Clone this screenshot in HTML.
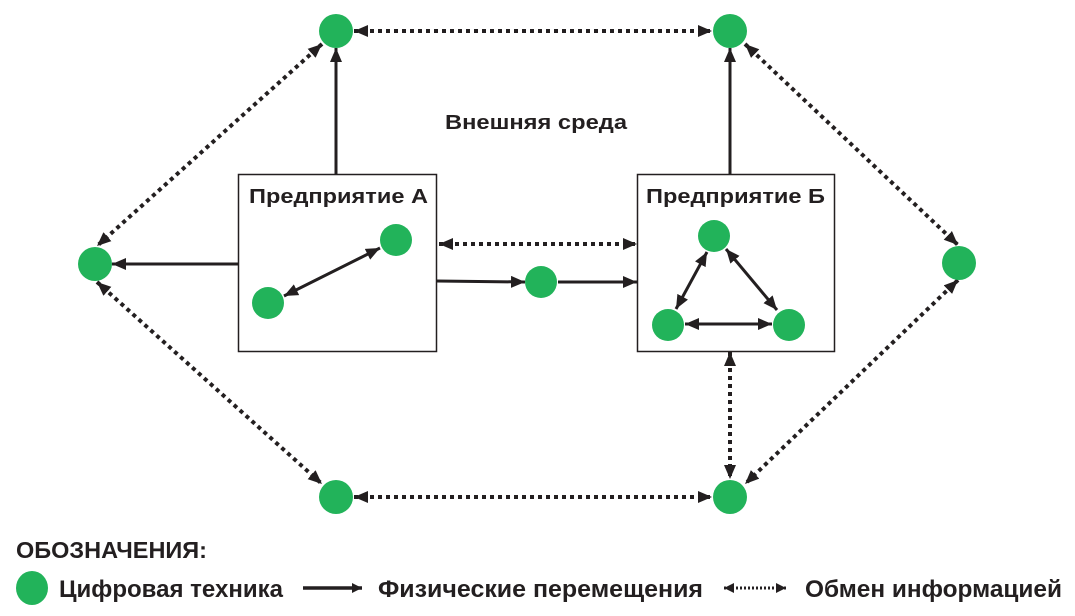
<!DOCTYPE html>
<html><head><meta charset="utf-8"><style>
html,body{margin:0;padding:0;background:#fff;width:1075px;height:616px;overflow:hidden}
svg{display:block}
text{font-family:"Liberation Sans",sans-serif;font-weight:bold;fill:#231f20}
</style></head><body>
<svg width="1075" height="616" viewBox="0 0 1075 616" xmlns="http://www.w3.org/2000/svg">
<defs>
<marker id="a" viewBox="0 0 14 12" refX="14" refY="6" markerWidth="14" markerHeight="12" markerUnits="userSpaceOnUse" orient="auto-start-reverse"><path d="M0,0L14,6L0,12z" fill="#231f20"/></marker>
<marker id="b" viewBox="0 0 10 10" refX="10" refY="5" markerWidth="10" markerHeight="10" markerUnits="userSpaceOnUse" orient="auto-start-reverse"><path d="M0,0L10,5L0,10z" fill="#231f20"/></marker>
</defs>
<g stroke="#231f20" fill="none">
<rect x="238.5" y="174.5" width="198" height="177" stroke-width="1.5"/>
<rect x="637.5" y="174.5" width="197" height="177" stroke-width="1.5"/>
<g stroke-width="3">
<line x1="336" y1="174" x2="336" y2="48" marker-end="url(#a)"/>
<line x1="730" y1="174" x2="730" y2="48" marker-end="url(#a)"/>
<line x1="238" y1="264" x2="112" y2="264" marker-end="url(#a)"/>
<line x1="437" y1="281" x2="525" y2="282" marker-end="url(#a)"/>
<line x1="558" y1="282" x2="637" y2="282" marker-end="url(#a)"/>
<line x1="380" y1="248" x2="284" y2="296" marker-start="url(#a)" marker-end="url(#a)"/>
<line x1="707" y1="252" x2="676" y2="309" marker-start="url(#a)" marker-end="url(#a)"/>
<line x1="726" y1="249" x2="777" y2="310" marker-start="url(#a)" marker-end="url(#a)"/>
<line x1="685" y1="324" x2="772" y2="324" marker-start="url(#a)" marker-end="url(#a)"/>
</g>
<g stroke-width="4" stroke-dasharray="4 4">
<line x1="354" y1="31" x2="712" y2="31" marker-start="url(#a)" marker-end="url(#a)"/>
<line x1="354" y1="497" x2="712" y2="497" marker-start="url(#a)" marker-end="url(#a)"/>
<line x1="439" y1="244" x2="637" y2="244" marker-start="url(#a)" marker-end="url(#a)"/>
<line x1="730" y1="352" x2="730" y2="479" marker-start="url(#a)" marker-end="url(#a)"/>
<line x1="322" y1="44" x2="97" y2="246" marker-start="url(#a)" marker-end="url(#a)"/>
<line x1="97" y1="282" x2="322" y2="484" marker-start="url(#a)" marker-end="url(#a)"/>
<line x1="745" y1="44" x2="958" y2="245" marker-start="url(#a)" marker-end="url(#a)"/>
<line x1="958" y1="280" x2="745" y2="484" marker-start="url(#a)" marker-end="url(#a)"/>
</g>
<line x1="303" y1="588" x2="362" y2="588" stroke-width="3.5" marker-end="url(#b)"/>
<line x1="724" y1="588" x2="786" y2="588" stroke-width="3" stroke-dasharray="2 2" marker-start="url(#b)" marker-end="url(#b)"/>
</g>
<g fill="#22b35a">
<circle cx="336" cy="31" r="17"/><circle cx="730" cy="31" r="17"/>
<circle cx="95" cy="264" r="17"/><circle cx="959" cy="263" r="17"/>
<circle cx="336" cy="497" r="17"/><circle cx="730" cy="497" r="17"/>
<circle cx="396" cy="240" r="16"/><circle cx="268" cy="303" r="16"/>
<circle cx="541" cy="282" r="16"/>
<circle cx="714" cy="236" r="16"/><circle cx="668" cy="325" r="16"/><circle cx="789" cy="325" r="16"/>
<ellipse cx="32" cy="588" rx="16" ry="17"/>
</g>
<text x="445" y="129" font-size="20" textLength="182" lengthAdjust="spacingAndGlyphs">Внешняя среда</text>
<text x="249" y="203" font-size="20" textLength="179" lengthAdjust="spacingAndGlyphs">Предприятие А</text>
<text x="646" y="203" font-size="20" textLength="179" lengthAdjust="spacingAndGlyphs">Предприятие Б</text>
<text x="16" y="558" font-size="23" textLength="191" lengthAdjust="spacingAndGlyphs">ОБОЗНАЧЕНИЯ:</text>
<text x="59" y="597" font-size="24" textLength="224" lengthAdjust="spacingAndGlyphs">Цифровая техника</text>
<text x="378" y="597" font-size="24" textLength="325" lengthAdjust="spacingAndGlyphs">Физические перемещения</text>
<text x="805" y="597" font-size="24" textLength="257" lengthAdjust="spacingAndGlyphs">Обмен информацией</text>
</svg>
</body></html>
